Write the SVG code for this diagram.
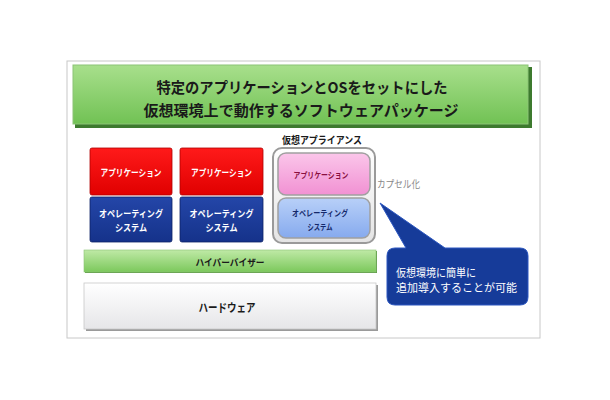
<svg xmlns="http://www.w3.org/2000/svg" width="610" height="400" viewBox="0 0 610 400">
<style>
text{font-family:"Noto Sans CJK JP","Noto Sans",sans-serif;text-anchor:middle;dominant-baseline:central}
.b{font-weight:bold}
.w{fill:#ffffff}
.s{text-anchor:start}
</style>
<defs>
<linearGradient id="gTitle" x1="0" y1="0" x2="0" y2="1"><stop offset="0" stop-color="#a8df8c"/><stop offset="1" stop-color="#71c254"/></linearGradient>
<linearGradient id="gRed" x1="0" y1="0" x2="0" y2="1"><stop offset="0" stop-color="#ff1a1a"/><stop offset="1" stop-color="#e00000"/></linearGradient>
<linearGradient id="gBlue" x1="0" y1="0" x2="0" y2="1"><stop offset="0" stop-color="#2446a8"/><stop offset="1" stop-color="#15328a"/></linearGradient>
<linearGradient id="gPink" x1="0" y1="0" x2="0" y2="1"><stop offset="0" stop-color="#fbc6ea"/><stop offset="1" stop-color="#f191d3"/></linearGradient>
<linearGradient id="gLBlue" x1="0" y1="0" x2="0" y2="1"><stop offset="0" stop-color="#b8d0f8"/><stop offset="1" stop-color="#86aaee"/></linearGradient>
<linearGradient id="gApp" x1="0" y1="0" x2="0" y2="1"><stop offset="0" stop-color="#ffffff"/><stop offset="1" stop-color="#e4e4e4"/></linearGradient>
<linearGradient id="gHyp" x1="0" y1="0" x2="0" y2="1"><stop offset="0" stop-color="#bfe9a6"/><stop offset="1" stop-color="#7cc85c"/></linearGradient>
<linearGradient id="gHw" x1="0" y1="0" x2="0" y2="1"><stop offset="0" stop-color="#ffffff"/><stop offset="1" stop-color="#e6e6e8"/></linearGradient>
</defs>
<rect x="67" y="61" width="473" height="277" fill="#ffffff" stroke="#c8c8c8" stroke-width="1"/>

<g id="title">
<rect x="75" y="67" width="457" height="61" fill="#3d7a2e"/>
<rect x="73" y="65" width="455" height="59" fill="url(#gTitle)" stroke="#8cc476" stroke-width="1"/>
<text x="302" y="86" class="b" font-size="15" fill="#1a1a1a" textLength="291" lengthAdjust="spacingAndGlyphs">特定のアプリケーションとOSをセットにした</text>
<text x="301" y="109" class="b" font-size="15" fill="#1a1a1a" textLength="315" lengthAdjust="spacingAndGlyphs">仮想環境上で動作するソフトウェアパッケージ</text>
</g>

<g id="app1">
<rect x="90" y="148" width="82" height="47" rx="2" fill="url(#gRed)" stroke="#b00000" stroke-width="0.8"/>
<text x="131" y="172" class="b w" font-size="9.5" textLength="61" lengthAdjust="spacingAndGlyphs">アプリケーション</text>
</g>
<g id="os1">
<rect x="90" y="197" width="82" height="45" rx="2" fill="url(#gBlue)" stroke="#0d2266" stroke-width="0.8"/>
<text x="131" y="213" class="b w" font-size="9.5" textLength="64" lengthAdjust="spacingAndGlyphs">オペレーティング</text>
<text x="131" y="227" class="b w" font-size="9.5" textLength="32" lengthAdjust="spacingAndGlyphs">システム</text>
</g>
<g id="app2">
<rect x="180" y="148" width="83" height="47" rx="2" fill="url(#gRed)" stroke="#b00000" stroke-width="0.8"/>
<text x="221.5" y="172" class="b w" font-size="9.5" textLength="61" lengthAdjust="spacingAndGlyphs">アプリケーション</text>
</g>
<g id="os2">
<rect x="180" y="197" width="83" height="45" rx="2" fill="url(#gBlue)" stroke="#0d2266" stroke-width="0.8"/>
<text x="221.5" y="213" class="b w" font-size="9.5" textLength="64" lengthAdjust="spacingAndGlyphs">オペレーティング</text>
<text x="221.5" y="227" class="b w" font-size="9.5" textLength="32" lengthAdjust="spacingAndGlyphs">システム</text>
</g>

<g id="appliance">
<text x="322" y="139" class="b" font-size="10" fill="#1a1a1a" textLength="80" lengthAdjust="spacingAndGlyphs">仮想アプライアンス</text>
<rect x="273" y="148" width="102" height="95" rx="9" fill="url(#gApp)" stroke="#9a9a9a" stroke-width="2"/>
<rect x="278" y="153" width="92" height="42" rx="8" fill="url(#gPink)" stroke="#a0a0a0" stroke-width="1.5"/>
<text x="321" y="174" class="b" font-size="8.5" fill="#8a1040" textLength="55" lengthAdjust="spacingAndGlyphs">アプリケーション</text>
<rect x="278" y="198" width="92" height="40" rx="8" fill="url(#gLBlue)" stroke="#a0a0a0" stroke-width="1.5"/>
<text x="320" y="212" class="b" font-size="8.5" fill="#14286a" textLength="56" lengthAdjust="spacingAndGlyphs">オペレーティング</text>
<text x="320" y="226" class="b" font-size="8.5" fill="#14286a" textLength="25" lengthAdjust="spacingAndGlyphs">システム</text>
</g>

<g id="capsule">
<text x="377" y="183" class="s" font-size="10.5" fill="#888888" textLength="43" lengthAdjust="spacingAndGlyphs">カプセル化</text>
</g>

<g id="hypervisor">
<rect x="85" y="251" width="292" height="22" fill="#5e9a48"/>
<rect x="84" y="250" width="292" height="22" fill="url(#gHyp)" stroke="#8cc476" stroke-width="0.6"/>
<text x="230" y="261.5" class="b" font-size="9.5" fill="#1a1a1a" textLength="69" lengthAdjust="spacingAndGlyphs">ハイパーバイザー</text>
</g>

<g id="hardware">
<rect x="86" y="285" width="292" height="46" fill="#9a9a9a"/>
<rect x="84" y="283" width="292" height="46" fill="url(#gHw)" stroke="#c8c8c8" stroke-width="0.8"/>
<text x="227" y="307" class="b" font-size="11.5" fill="#1a1a1a" textLength="57" lengthAdjust="spacingAndGlyphs">ハードウェア</text>
</g>

<g id="callout">
<path d="M 395 248 L 406 248 L 380 203 L 445 248 L 520 248 Q 528 248 528 256 L 528 297 Q 528 305 520 305 L 395 305 Q 387 305 387 297 L 387 256 Q 387 248 395 248 Z" fill="#163b99" stroke="#2c57c0" stroke-width="1"/>
<text x="396" y="272" class="s" font-size="11" fill="#ffffff" textLength="80" lengthAdjust="spacingAndGlyphs">仮想環境に簡単に</text>
<text x="396" y="287" class="s" font-size="11" fill="#ffffff" textLength="121" lengthAdjust="spacingAndGlyphs">追加導入することが可能</text>
</g>
<g id="connectors"></g>
</svg>
